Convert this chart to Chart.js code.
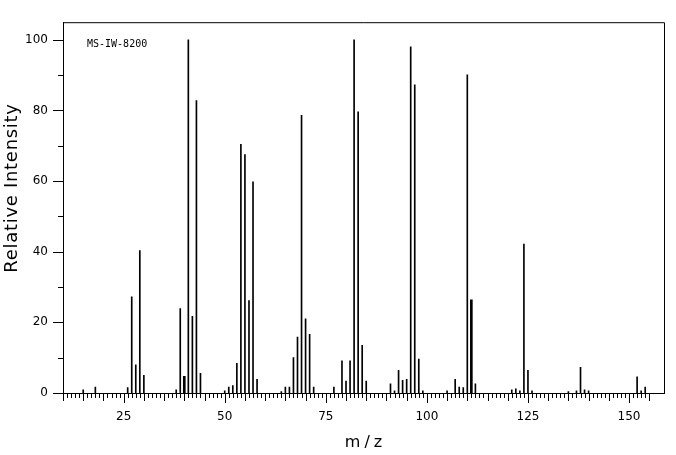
<!DOCTYPE html>
<html>
<head>
<meta charset="utf-8">
<script src="https://cdn.jsdelivr.net/npm/chart.js@4.4.1/dist/chart.umd.min.js"></script>
<style>
  html, body { margin: 0; padding: 0; background: #fff; }
  #wrap { width: 676px; height: 455px; }
</style>
</head>
<body>
<div id="wrap"><canvas id="msChart" width="676" height="455"></canvas></div>
<script>
// --- Data ---
const peakMz = [15, 18, 26, 27, 28, 29, 30, 38, 39, 40, 41, 42, 43, 44,
  50, 51, 52, 53, 54, 55, 56, 57, 58, 64, 65, 66, 67, 68, 69, 70, 71, 72,
  77, 79, 80, 81, 82, 83, 84, 85, 91, 92, 93, 94, 95, 96, 97, 98, 99,
  105, 107, 108, 109, 110, 111, 112, 121, 122, 123, 124, 125, 126,
  135, 137, 138, 139, 140, 152, 153, 154];
const peakIntensity = [0.9, 1.7, 1.5, 27.2, 8.0, 40.3, 5.0, 0.9, 23.9, 4.7, 100, 21.7, 82.8, 5.6,
  0.6, 1.7, 2.1, 8.4, 70.4, 67.5, 26.2, 59.8, 3.9, 0.4, 1.7, 1.7, 10.0, 15.8, 78.6, 21.0, 16.6, 1.7,
  1.7, 9.1, 3.4, 9.1, 100, 79.6, 13.5, 3.4, 2.6, 0.6, 6.4, 3.6, 3.9, 98.0, 87.3, 9.6, 0.6,
  0.6, 3.9, 1.7, 1.5, 90.1, 26.4, 2.6, 0.9, 1.2, 0.6, 42.2, 6.4, 0.6,
  0.4, 0.6, 7.3, 0.9, 0.6, 4.6, 0.6, 1.7];
const thickPeaks = [40, 111];          // drawn a bit heavier in the original
const xTickLabels = [25, 50, 75, 100, 125, 150];
const yTickLabels = [0, 20, 40, 60, 80, 100];
const spectrumId = 'MS-IW-8200';
const xTitle = 'm/z';
const yTitle = 'Relative Intensity';

// --- Build datasets ---
const points = peakMz.map((m, i) => ({ x: m, y: peakIntensity[i] }));
const thinPts = points.filter(p => !thickPeaks.includes(p.x));
const thickPts = points.filter(p => thickPeaks.includes(p.x));

const tickFont = { family: 'DejaVu Sans', size: 12 };

// ticks, box edges and titles in the old spectrum-plot style
const framePlugin = {
  id: 'frame',
  afterDraw(chart) {
    const { ctx, chartArea: a, scales: { x, y } } = chart;
    ctx.save();
    ctx.strokeStyle = '#000';
    ctx.lineWidth = 1;
    ctx.beginPath();
    ctx.moveTo(a.left, a.top + 0.5);
    ctx.lineTo(a.right + 0.5, a.top + 0.5);
    ctx.lineTo(a.right + 0.5, a.bottom);
    for (let v = 0; v <= 100; v += 10) {
      const py = Math.round(y.getPixelForValue(v)) + 0.5;
      const len = v % 20 === 0 ? 10 : 5;
      ctx.moveTo(a.left - len, py);
      ctx.lineTo(a.left, py);
    }
    for (let v = 10; v <= 155; v++) {
      const px = Math.round(x.getPixelForValue(v)) + 0.5;
      const len = v % 25 === 0 ? 10 : (v % 5 === 0 ? 8 : 5);
      ctx.moveTo(px, a.bottom);
      ctx.lineTo(px, a.bottom + len);
    }
    ctx.stroke();

    ctx.fillStyle = '#000';
    // id label inside the plot
    ctx.font = '10px "DejaVu Sans Mono"';
    ctx.textAlign = 'left';
    ctx.textBaseline = 'alphabetic';
    ctx.fillText(spectrumId, 87, 47);

    // x title
    ctx.font = '16px "DejaVu Sans"';
    ctx.letterSpacing = '4px';
    ctx.textAlign = 'center';
    ctx.textBaseline = 'alphabetic';
    ctx.fillText(xTitle, (a.left + a.right) / 2 + 2, 447);

    // y title
    ctx.letterSpacing = '0.7px';
    ctx.font = '18px "DejaVu Sans"';
    ctx.translate(17, 188);
    ctx.rotate(-Math.PI / 2);
    ctx.textBaseline = 'alphabetic';
    ctx.fillText(yTitle, 0, 0);
    ctx.restore();
  }
};

new Chart(document.getElementById('msChart'), {
  type: 'bar',
  data: {
    datasets: [
      { data: thinPts, backgroundColor: '#000', barThickness: 1, grouped: false },
      { data: thickPts, backgroundColor: '#000', barThickness: 2, grouped: false }
    ]
  },
  options: {
    responsive: false,
    animation: false,
    layout: { padding: { left: 0, top: 9, right: 12, bottom: 0 } },
    plugins: { legend: { display: false }, tooltip: { enabled: false } },
    scales: {
      x: {
        type: 'linear', min: 10, max: 158.65, offset: false,
        grid: { display: false, drawTicks: false },
        border: { display: true, color: '#000', width: 1 },
        afterBuildTicks: s => { s.ticks = xTickLabels.map(v => ({ value: v })); },
        afterFit: s => { s.height = 62; },
        ticks: { padding: 17, color: '#000', font: tickFont, maxRotation: 0, autoSkip: false }
      },
      y: {
        type: 'linear', min: 0, max: 105,
        grid: { display: false, drawTicks: false },
        border: { display: true, color: '#000', width: 1 },
        afterBuildTicks: s => { s.ticks = yTickLabels.map(v => ({ value: v })); },
        afterFit: s => { s.width = 63; },
        ticks: { padding: 15, color: '#000', font: tickFont }
      }
    }
  },
  plugins: [framePlugin]
});
</script>
</body>
</html>
